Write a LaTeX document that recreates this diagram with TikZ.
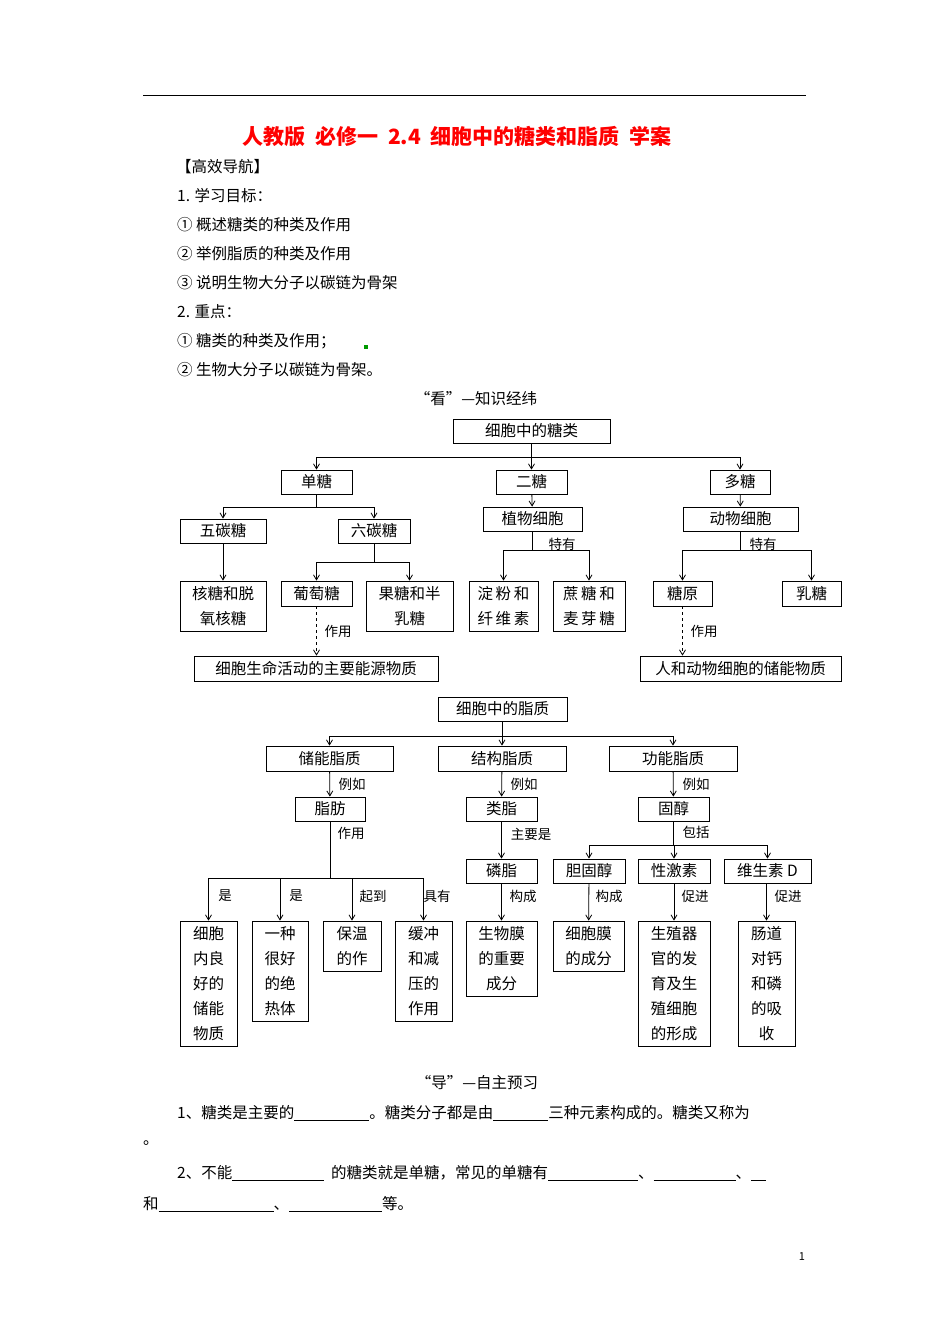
\documentclass[tikz,border=0pt]{standalone}
\usepackage{fontspec}
\setmainfont{Noto Sans CJK SC}
\usetikzlibrary{arrows.meta}
\newcommand{\blank}[1]{\rule[-2pt]{#1pt}{0.6pt}}
\begin{document}
\begin{tikzpicture}[x=1pt,y=-1pt,
  bx/.style={draw,line width=0.8pt,inner sep=0pt,align=center,font=\fontsize{15.5}{25}\selectfont},
  arr/.style={line width=0.8pt,-{Straight Barb[length=5pt,width=6pt]}},
  lb/.style={font=\fontsize{13.5}{15}\selectfont,inner sep=1pt},
  tx/.style={anchor=west,inner sep=0pt,font=\fontsize{15.5}{17}\selectfont}]
\useasboundingbox[fill=white] (0,0) rectangle (950,1344);
\draw[line width=0.8pt] (143,95) -- (806,95);
\node[font=\fontsize{21}{24}\selectfont\bfseries,text=red] (title) at (457,137) {人教版\ \ 必修一\ \ 2.4\ \ 细胞中的糖类和脂质\ \ 学案};
\node[tx] (t1) at (176,167) {【高效导航】};
\node[tx] (t2) at (177,196) {1. 学习目标：};
\node[tx] (t3) at (177,225) {① 概述糖类的种类及作用};
\node[tx] (t4) at (177,254) {② 举例脂质的种类及作用};
\node[tx] (t5) at (177,283) {③ 说明生物大分子以碳链为骨架};
\node[tx] (t6) at (177,312) {2. 重点：};
\node[tx] (t7) at (177,341) {① 糖类的种类及作用；};
\fill[green!60!black] (364,345) rectangle (368,349);
\node[tx] (t8) at (177,370) {② 生物大分子以碳链为骨架。};
\node[font=\fontsize{15.5}{17}\selectfont] (h1) at (476,399) {“看”—知识经纬};
% sugar diagram
\node[bx,minimum width=157,minimum height=24] (st) at (531.5,431) {细胞中的糖类};
\node[bx,minimum width=71,minimum height=24] (dt) at (316.5,482) {单糖};
\node[bx,minimum width=71,minimum height=24] (et) at (531.5,482) {二糖};
\node[bx,minimum width=60,minimum height=24] (duo) at (740,482) {多糖};
\node[bx,minimum width=86,minimum height=24] (wt) at (223,531) {五碳糖};
\node[bx,minimum width=72,minimum height=24] (lt) at (374,531) {六碳糖};
\node[bx,minimum width=99,minimum height=24] (zw) at (532.5,519) {植物细胞};
\node[bx,minimum width=115,minimum height=24] (dw) at (740.5,519) {动物细胞};
\node[bx,minimum width=86,minimum height=50] (hd) at (223,606) {核糖和脱\\氧核糖};
\node[bx,minimum width=71,minimum height=25] (pt) at (316.5,593.5) {葡萄糖};
\node[bx,minimum width=87,minimum height=50] (gt) at (409.5,606) {果糖和半\\乳糖};
\node[bx,minimum width=69,minimum height=50] (df) at (503.5,606) {淀\,粉\,和\\纤\,维\,素};
\node[bx,minimum width=72,minimum height=50] (zt) at (589,606) {蔗\,糖\,和\\麦\,芽\,糖};
\node[bx,minimum width=59,minimum height=25] (ty) at (682.5,593.5) {糖原};
\node[bx,minimum width=59,minimum height=25] (rt) at (811.5,593.5) {乳糖};
\node[bx,minimum width=244,minimum height=25] (e1) at (316,668.5) {细胞生命活动的主要能源物质};
\node[bx,minimum width=201,minimum height=25] (e2) at (740.5,668.5) {人和动物细胞的储能物质};
\foreach \c in {dt,et,duo} \draw[arr] (st.south) -- ++(0,14) -| (\c.north);
\foreach \c in {wt,lt} \draw[arr] (dt.south) -- ++(0,13) -| (\c.north);
\draw[arr] (et) -- (zw);
\draw[arr] (duo) -- (dw);
\draw[arr] (wt) -- (hd);
\foreach \c in {pt,gt} \draw[arr] (lt.south) -- ++(0,19) -| (\c.north);
\foreach \c in {df,zt} \draw[arr] (zw.south) -- ++(0,19) -| (\c.north);
\foreach \c in {ty,rt} \draw[arr] (dw.south) -- ++(0,19) -| (\c.north);
\node[lb] (l1) at (562,544) {特有};
\node[lb] (l2) at (763,544) {特有};
\draw[arr,dashed] (pt) -- (pt|-e1.north);
\draw[arr,dashed] (ty) -- (ty|-e2.north);
\node[lb] (l3) at (338,631) {作用};
\node[lb] (l4) at (704,631) {作用};
% lipid diagram
\node[bx,minimum width=129,minimum height=24] (zz) at (502.5,709) {细胞中的脂质};
\node[bx,minimum width=127,minimum height=25] (cn) at (329.5,758.5) {储能脂质};
\node[bx,minimum width=128,minimum height=25] (jg) at (502,758.5) {结构脂质};
\node[bx,minimum width=128,minimum height=25] (gn) at (673,758.5) {功能脂质};
\node[bx,minimum width=70,minimum height=24] (zf) at (330,809) {脂肪};
\node[bx,minimum width=71,minimum height=24] (lz) at (501.5,809) {类脂};
\node[bx,minimum width=71,minimum height=24] (gc) at (673.5,809) {固醇};
\node[bx,minimum width=71,minimum height=24] (lin) at (501.5,871) {磷脂};
\node[bx,minimum width=72,minimum height=24] (dg) at (589,871) {胆固醇};
\node[bx,minimum width=72,minimum height=24] (xj) at (674,871) {性激素};
\node[bx,minimum width=87,minimum height=24] (ws) at (767.5,871) {维生素 D};
\node[bx,minimum width=57,minimum height=125] (b1) at (208.5,983.5) {细胞\\内良\\好的\\储能\\物质};
\node[bx,minimum width=56,minimum height=100] (b2) at (280,971) {一种\\很好\\的绝\\热体};
\node[bx,minimum width=58,minimum height=50] (b3) at (352,946) {保温\\的作};
\node[bx,minimum width=57,minimum height=100] (b4) at (423.5,971) {缓冲\\和减\\压的\\作用};
\node[bx,minimum width=71,minimum height=75] (b5) at (501.5,958.5) {生物膜\\的重要\\成分};
\node[bx,minimum width=71,minimum height=50] (b6) at (588.5,946) {细胞膜\\的成分};
\node[bx,minimum width=72,minimum height=125] (b7) at (674,983.5) {生殖器\\官的发\\育及生\\殖细胞\\的形成};
\node[bx,minimum width=57,minimum height=125] (b8) at (766.5,983.5) {肠道\\对钙\\和磷\\的吸\\收};
\foreach \c in {cn,jg,gn} \draw[arr] (zz.south) -- ++(0,15) -| (\c.north);
\draw[arr] (cn) -- (zf); \draw[arr] (jg) -- (lz); \draw[arr] (gn) -- (gc);
\node[lb] (r1) at (352,784) {例如};
\node[lb] (r2) at (524,784) {例如};
\node[lb] (r3) at (696,784) {例如};
\foreach \c in {b1,b2,b3,b4} \draw[arr] (zf.south) -- ++(0,57) -| (\c.north);
\node[lb] (r4) at (351,833) {作用};
\node[lb] (r5) at (225,896) {是};
\node[lb] (r6) at (296,896) {是};
\node[lb] (r7) at (373,896) {起到};
\node[lb] (r8) at (437,896) {具有};
\draw[arr] (lz) -- (lin);
\node[lb] (r9) at (531,834) {主要是};
\foreach \c in {dg,xj,ws} \draw[arr] (gc.south) -- ++(0,24) -| (\c.north);
\node[lb] (r10) at (696,832) {包括};
\draw[arr] (lin) -- (b5); \draw[arr] (dg) -- (b6); \draw[arr] (xj) -- (b7); \draw[arr] (ws.south-|b8) -- (b8);
\node[lb] (r11) at (523,896) {构成};
\node[lb] (r12) at (609,896) {构成};
\node[lb] (r13) at (695,896) {促进};
\node[lb] (r14) at (788,896) {促进};
% bottom text
\node[font=\fontsize{15.5}{17}\selectfont] (h2) at (477,1083) {“导”—自主预习};
\node[tx] (p1) at (177,1113) {1、糖类是主要的\blank{75}。糖类分子都是由\blank{55}三种元素构成的。糖类又称为};
\node[tx] (p2) at (143,1143) {。};
\node[tx] (p3) at (177,1173) {2、不能\blank{92}\ \ 的糖类就是单糖，常见的单糖有\blank{90}、\blank{82}、\blank{15}};
\node[tx] (p4) at (143,1204) {和\blank{115}、\blank{93}等。};
\node[font=\fontsize{11}{13}\selectfont] (pg) at (802,1257) {1};
\end{tikzpicture}
\end{document}
